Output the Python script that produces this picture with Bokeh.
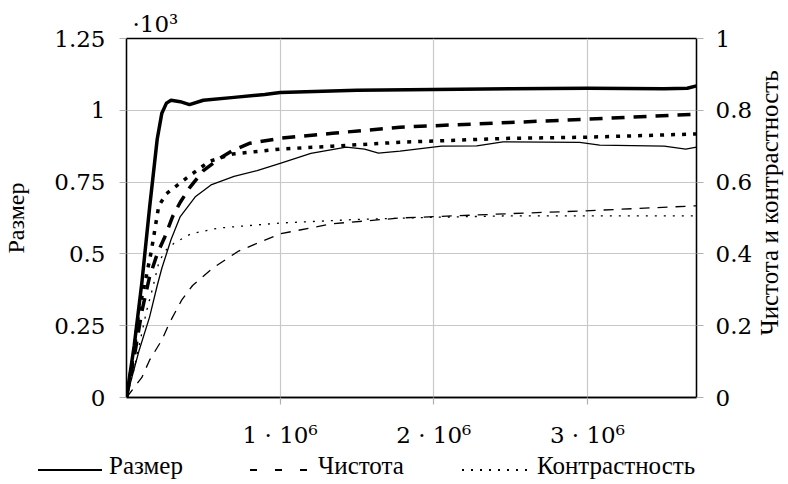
from bokeh.plotting import figure
from bokeh.layouts import column, row
from bokeh.models import Range1d, LinearAxis, FixedTicker, Div
from bokeh.embed import file_html
from bokeh.resources import INLINE

# ---- data (x in units of 10^6) ----
# Размер (left axis, ·10^3) – thick series
x_size_a = [0, 0.05, 0.1, 0.15, 0.2, 0.23, 0.26, 0.29, 0.35, 0.41, 0.5, 0.7, 0.9, 1.0,
            1.5, 2.0, 2.5, 3.0, 3.5, 3.65, 3.71]
y_size_a = [0, 0.18, 0.4, 0.66, 0.9, 0.99, 1.025, 1.035, 1.03, 1.02, 1.035, 1.045, 1.055,
            1.062, 1.07, 1.072, 1.075, 1.077, 1.075, 1.077, 1.085]
# Размер – thin series
x_size_b = [0, 0.02, 0.08, 0.15, 0.2, 0.23, 0.29, 0.35, 0.45, 0.55, 0.7, 0.85, 1.0, 1.2,
            1.43, 1.55, 1.64, 1.78, 2.05, 2.28, 2.45, 2.95, 3.08, 3.5, 3.64, 3.71]
y_size_b = [0, 0.04, 0.16, 0.28, 0.39, 0.45, 0.55, 0.63, 0.70, 0.74, 0.77, 0.79, 0.815,
            0.85, 0.872, 0.865, 0.851, 0.858, 0.875, 0.876, 0.89, 0.888, 0.879, 0.875,
            0.865, 0.872]
# Чистота (right axis) – thick series
x_pur_a = [0, 0.05, 0.1, 0.15, 0.2, 0.25, 0.3, 0.35, 0.41, 0.5, 0.6, 0.69, 0.8, 1.0,
           1.34, 1.78, 2.49, 2.99, 3.71]
y_pur_a = [0, 0.112, 0.24, 0.336, 0.4, 0.448, 0.504, 0.544, 0.584, 0.632, 0.664, 0.688,
           0.708, 0.722, 0.736, 0.753, 0.766, 0.775, 0.789]
# Чистота – thin series
x_pur_b = [0, 0.1, 0.15, 0.23, 0.28, 0.36, 0.43, 0.56, 0.73, 1.0, 1.34, 1.78, 2.49,
           2.99, 3.71]
y_pur_b = [0, 0.056, 0.104, 0.16, 0.208, 0.272, 0.312, 0.36, 0.408, 0.456, 0.484, 0.5,
           0.512, 0.52, 0.534]
# Контрастность (right axis) – thick series
x_con_a = [0, 0.05, 0.08, 0.127, 0.16, 0.21, 0.26, 0.39, 0.54, 0.69, 1.0, 1.34, 1.78,
           2.49, 2.99, 3.71]
y_con_a = [0, 0.13, 0.24, 0.334, 0.404, 0.534, 0.568, 0.611, 0.658, 0.678, 0.692, 0.7,
           0.711, 0.722, 0.725, 0.734]
# Контрастность – thin series
x_con_b = [0, 0.05, 0.09, 0.13, 0.17, 0.21, 0.25, 0.31, 0.42, 0.6, 1.0, 1.5, 2.0, 2.5,
           3.0, 3.71]
y_con_b = [0, 0.08, 0.16, 0.24, 0.304, 0.376, 0.408, 0.43, 0.456, 0.472, 0.486, 0.496,
           0.502, 0.506, 0.506, 0.506]

x_ticks = [1, 2, 3]
x_tick_labels = ["1 · 10⁶", "2 · 10⁶", "3 · 10⁶"]
yl_ticks = [0, 0.25, 0.5, 0.75, 1, 1.25]
yl_tick_labels = ["0", "0.25", "0.5", "0.75", "1", "1.25"]
yr_ticks = [0, 0.2, 0.4, 0.6, 0.8, 1]
yr_tick_labels = ["0", "0.2", "0.4", "0.6", "0.8", "1"]
left_label = "Размер"
right_label = "Чистота и контрастность"
legend_labels = ["Размер", "Чистота", "Контрастность"]

NUM_FONT = "DejaVu Serif"
TXT_FONT = "Liberation Serif"

p = figure(frame_width=570, frame_height=359, x_range=Range1d(0, 3.71),
           y_range=Range1d(0, 1.25), output_backend="svg", toolbar_location=None,
           min_border_left=119, min_border_right=0, min_border_top=38,
           min_border_bottom=52)
p.extra_y_ranges = {"r": Range1d(0, 1)}

p.outline_line_color = "black"
p.outline_line_width = 1.3
p.background_fill_color = "white"
p.border_fill_color = "white"

# multiplier shown above the left axis
p.title.text = "·10³"
p.title.align = "left"
p.title.offset = 6
p.title.standoff = 4
p.title.text_font = NUM_FONT
p.title.text_font_size = "23px"
p.title.text_font_style = "normal"
p.title.text_color = "#000000"

# grids
p.xgrid.ticker = FixedTicker(ticks=x_ticks)
p.ygrid.ticker = FixedTicker(ticks=yl_ticks)
for g in (p.xgrid, p.ygrid):
    g.grid_line_color = "#c8c8c8"
    g.grid_line_width = 1.2

# axes
xa = p.xaxis[0]
xa.ticker = FixedTicker(ticks=x_ticks)
xa.major_label_overrides = dict(zip(x_ticks, x_tick_labels))
xa.major_label_standoff = 17

ya = p.yaxis[0]
ya.ticker = FixedTicker(ticks=yl_ticks)
ya.major_label_overrides = dict(zip(yl_ticks, yl_tick_labels))
ya.axis_label = left_label
ya.major_label_standoff = 14
ya.axis_label_standoff = 22

ra = LinearAxis(y_range_name="r", ticker=FixedTicker(ticks=yr_ticks))
ra.major_label_overrides = dict(zip(yr_ticks, yr_tick_labels))
ra.major_label_standoff = 12
p.add_layout(ra, "right")

for ax in (xa, ya, ra):
    ax.axis_line_color = "black"
    ax.axis_line_width = 1.3
    ax.major_tick_out = 7
    ax.major_tick_in = 0
    ax.major_tick_line_color = "#b0b0b0"
    ax.major_tick_line_width = 1.2
    ax.minor_tick_out = 0
    ax.minor_tick_in = 0
    ax.major_label_text_font = NUM_FONT
    ax.major_label_text_font_size = "23px"
    ax.major_label_text_color = "#000000"
    ax.axis_label_text_font = TXT_FONT
    ax.axis_label_text_font_size = "24px"
    ax.axis_label_text_font_style = "normal"
    ax.axis_label_text_color = "#000000"

# lines
p.line(x_size_b, y_size_b, line_color="black", line_width=1.3, line_join="round")
p.line(x_size_a, y_size_a, line_color="black", line_width=3.5, line_join="round")
p.line(x_pur_b, y_pur_b, y_range_name="r", line_color="black", line_width=1.3,
       line_dash="10 8")
p.line(x_pur_a, y_pur_a, y_range_name="r", line_color="black", line_width=3.5,
       line_dash="13 9")
p.line(x_con_b, y_con_b, y_range_name="r", line_color="black", line_width=1.3,
       line_dash="2 7")
p.line(x_con_a, y_con_a, y_range_name="r", line_color="black", line_width=3.5,
       line_dash="4 7")

FONT_CSS = ("font-family:Liberation Serif,Times New Roman,serif !important;"
            "font-size:25px;line-height:25px;color:#000;")
HOST_STYLES = {"font-family": "Liberation Serif, serif", "font-size": "25px",
               "color": "#000"}

# right axis title (rotated, reads bottom-to-top)
rlabel_html = (
    '<div style="position:relative;width:24px;height:449px;">'
    '<div style="position:absolute;left:14px;top:203px;white-space:nowrap;'
    'transform:translate(-50%,-50%) rotate(-90deg);' + FONT_CSS + '">'
    + right_label + '</div></div>')
rdiv = Div(text=rlabel_html, width=24, height=449, styles=HOST_STYLES)

# legend strip
samples = [
    "background:#000;",
    "background:repeating-linear-gradient(to right,#000 0px,#000 7px,"
    "transparent 7px,transparent 25px);",
    "background:repeating-linear-gradient(to right,#000 0px,#000 1.6px,"
    "transparent 1.6px,transparent 9px);",
]
sample_left = [38, 250, 462]
sample_width = [64, 57, 65]
text_left = [109, 318, 537]
parts = []
for lab, st, sl, sw, tl in zip(legend_labels, samples, sample_left, sample_width, text_left):
    parts.append('<div style="position:absolute;left:%dpx;top:19px;width:%dpx;height:1.5px;%s"></div>'
                 % (sl, sw, st))
    parts.append('<div style="position:absolute;left:%dpx;top:3px;white-space:nowrap;%s">%s</div>'
                 % (tl, FONT_CSS, lab))
legend_html = ('<div style="position:relative;width:740px;height:30px;">'
               + "".join(parts) + '</div>')
ldiv = Div(text=legend_html, width=740, height=30, styles=HOST_STYLES)

for d in (rdiv, ldiv):
    if "margin" in d.properties():
        d.margin = 0

layout = column(row(p, rdiv, spacing=0), ldiv, spacing=0)
open("out.html", "w").write(file_html(layout, INLINE))
